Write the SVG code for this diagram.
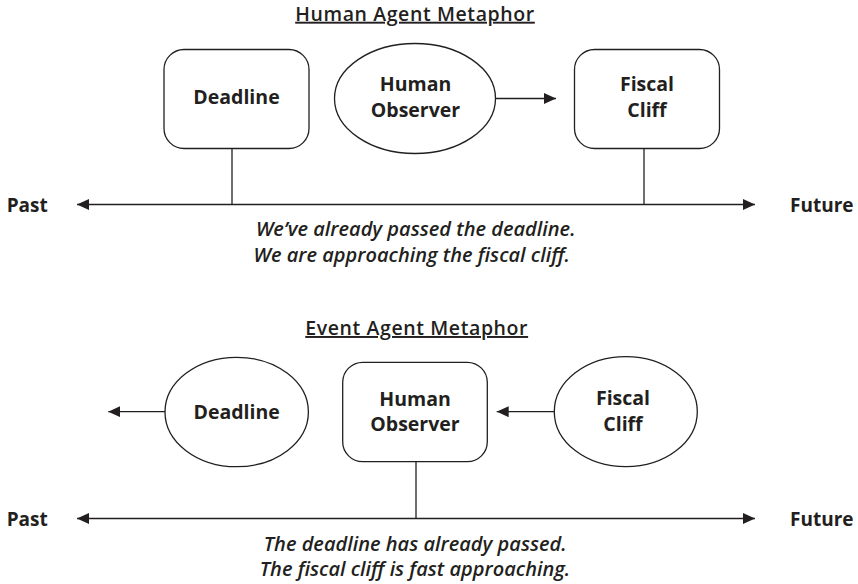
<svg xmlns="http://www.w3.org/2000/svg" width="858" height="584" viewBox="0 0 858 584">
<style>
  text { font-family: "Open Sans", "Lato", "Liberation Sans", sans-serif; fill: #231f20; }
  .title { font-size: 19.5px; font-weight: 600; text-anchor: middle; text-decoration: underline; letter-spacing: 0.6px; }
  .lbl { font-size: 19.5px; font-weight: 700; text-anchor: middle; }
  .side { font-size: 19px; font-weight: 700; }
  .cap { font-size: 20px; font-weight: 600; font-style: italic; text-anchor: middle; }
  .shape { fill: #ffffff; stroke: #231f20; stroke-width: 1.3; }
  .conn { stroke: #231f20; stroke-width: 1.3; fill: none; }
</style>
<defs>
  <marker id="ah" viewBox="0 0 12 11" refX="12" refY="5.5" markerWidth="12" markerHeight="11" markerUnits="userSpaceOnUse" orient="auto-start-reverse">
    <path d="M0,0 L12,5.5 L0,11 Z" fill="#231f20"/>
  </marker>
</defs>
<rect width="858" height="584" fill="#ffffff"/>

<text class="title" x="415" y="20.7">Human Agent Metaphor</text>
<text class="title" x="416.7" y="335">Event Agent Metaphor</text>

<g id="connectors">
  <line class="conn" x1="77" y1="204.5" x2="755" y2="204.5" marker-start="url(#ah)" marker-end="url(#ah)"/>
  <line class="conn" x1="232" y1="148.5" x2="232" y2="204.5"/>
  <line class="conn" x1="644" y1="148.5" x2="644" y2="204.5"/>
  <line class="conn" x1="495.5" y1="98.5" x2="556" y2="98.5" marker-end="url(#ah)"/>
  <line class="conn" x1="77" y1="518.5" x2="755" y2="518.5" marker-start="url(#ah)" marker-end="url(#ah)"/>
  <line class="conn" x1="416" y1="462" x2="416" y2="518.5"/>
  <line class="conn" x1="165" y1="411.7" x2="108.3" y2="411.7" marker-end="url(#ah)"/>
  <line class="conn" x1="554.3" y1="411.7" x2="496.7" y2="411.7" marker-end="url(#ah)"/>
</g>

<g id="top-deadline">
  <rect class="shape" x="164" y="49.5" width="145" height="99" rx="20" ry="20"/>
  <text class="lbl" x="236.5" y="104">Deadline</text>
</g>
<g id="top-human-observer">
  <ellipse class="shape" cx="415" cy="98.5" rx="80.5" ry="55"/>
  <text class="lbl" x="415.5" y="90.7">Human</text>
  <text class="lbl" x="415.5" y="116.7">Observer</text>
</g>
<g id="top-fiscal-cliff">
  <rect class="shape" x="574.5" y="49.5" width="145" height="99" rx="20" ry="20"/>
  <text class="lbl" x="647" y="91">Fiscal</text>
  <text class="lbl" x="647" y="116.7">Cliff</text>
</g>
<g id="top-past"><text class="side" x="6.7" y="211.7">Past</text></g>
<g id="top-future"><text class="side" x="790" y="211.7">Future</text></g>
<g id="top-caption">
  <text class="cap" x="415.7" y="235.7">We’ve already passed the deadline.</text>
  <text class="cap" x="411.7" y="261.7">We are approaching the fiscal cliff.</text>
</g>

<g id="bottom-deadline">
  <ellipse class="shape" cx="236.7" cy="412" rx="71.7" ry="54.7"/>
  <text class="lbl" x="236.7" y="419">Deadline</text>
</g>
<g id="bottom-human-observer">
  <rect class="shape" x="342.7" y="362.3" width="144.6" height="99.4" rx="20" ry="20"/>
  <text class="lbl" x="415" y="405.5">Human</text>
  <text class="lbl" x="415" y="430.7">Observer</text>
</g>
<g id="bottom-fiscal-cliff">
  <ellipse class="shape" cx="625.8" cy="411.7" rx="71.5" ry="55"/>
  <text class="lbl" x="623" y="405.3">Fiscal</text>
  <text class="lbl" x="623" y="430.7">Cliff</text>
</g>
<g id="bottom-past"><text class="side" x="6.7" y="525.8">Past</text></g>
<g id="bottom-future"><text class="side" x="790" y="525.8">Future</text></g>
<g id="bottom-caption">
  <text class="cap" x="415.2" y="550.7">The deadline has already passed.</text>
  <text class="cap" x="415" y="576">The fiscal cliff is fast approaching.</text>
</g>
</svg>
